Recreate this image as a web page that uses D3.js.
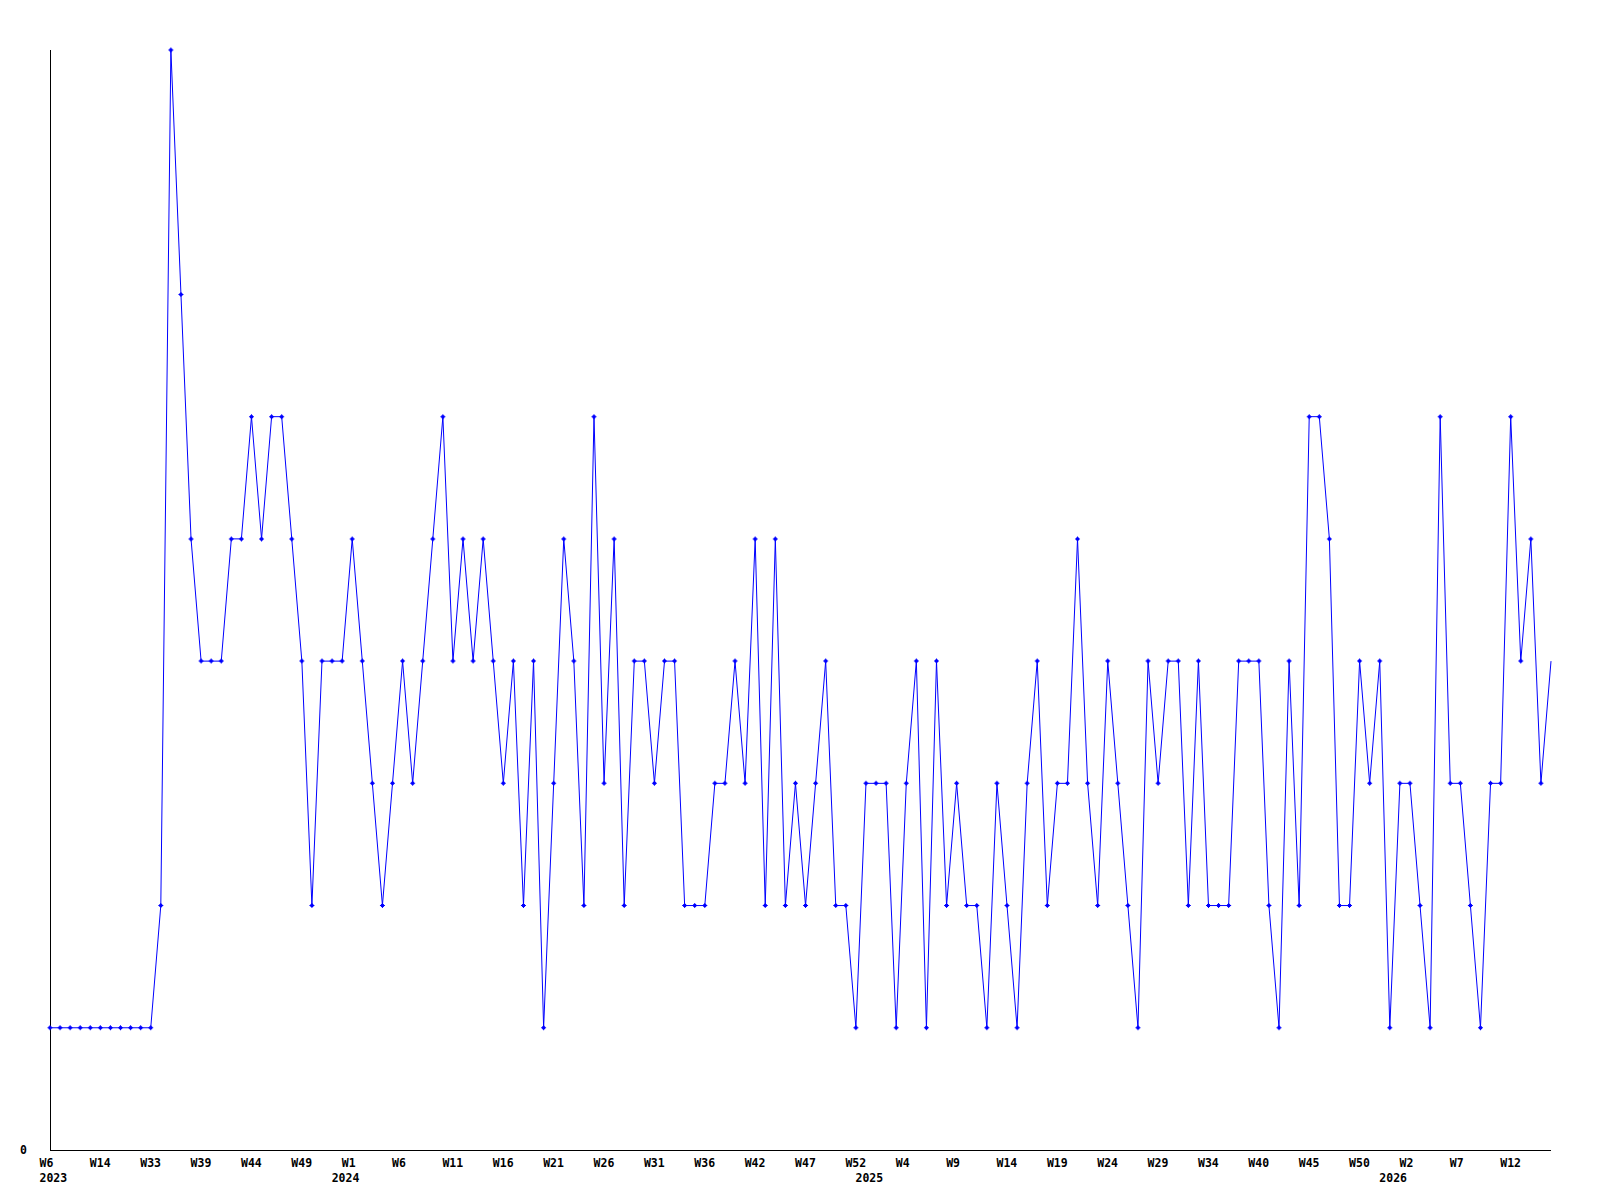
<!DOCTYPE html>
<html>

<head>
    <meta charset="utf-8">
    <style>
        body {
            margin: 0;
            background: white;
        }

        svg {
            display: block;
        }

        .lbl {
            font-family: 'DejaVu Sans Mono', 'Liberation Mono', monospace;
            font-weight: bold;
            font-size: 11.5px;
            fill: black;
        }
    </style>
</head>

<body>
    <svg width="1600" height="1200"></svg>
</body>

<script src="https://d3js.org/d3.v7.min.js"></script>

<script>
    // weekly counts, one per point (index 0 = W6 2023)
    let counts = [
        1, 1, 1, 1, 1, 1, 1, 1, 1, 1,
        1, 2, 9, 7, 5, 4, 4, 4, 5, 5,
        6, 5, 6, 6, 5, 4, 2, 4, 4, 4,
        5, 4, 3, 2, 3, 4, 3, 4, 5, 6,
        4, 5, 4, 5, 4, 3, 4, 2, 4, 1,
        3, 5, 4, 2, 6, 3, 5, 2, 4, 4,
        3, 4, 4, 2, 2, 2, 3, 3, 4, 3,
        5, 2, 5, 2, 3, 2, 3, 4, 2, 2,
        1, 3, 3, 3, 1, 3, 4, 1, 4, 2,
        3, 2, 2, 1, 3, 2, 1, 3, 4, 2,
        3, 3, 5, 3, 2, 4, 3, 2, 1, 4,
        3, 4, 4, 2, 4, 2, 2, 2, 4, 4,
        4, 2, 1, 4, 2, 6, 6, 5, 2, 2,
        4, 3, 4, 1, 3, 3, 2, 1, 6, 3,
        3, 2, 1, 3, 3, 6, 4, 5, 3, 4
    ]

    // tick labels every 5th point
    let weekLabels = [
        "W6", "W14", "W33", "W39", "W44", "W49", "W1", "W6", "W11", "W16",
        "W21", "W26", "W31", "W36", "W42", "W47", "W52", "W4", "W9", "W14",
        "W19", "W24", "W29", "W34", "W40", "W45", "W50", "W2", "W7", "W12"
    ]

    // year labels and the point they sit under
    let yearLabels = ["2023", "2024", "2025", "2026"]
    let yearIndex = [0, 29, 81, 133]

    let yMax = 9

    let svg = d3.select("svg")

    let mLeft = 50, mRight = 1551, mTop = 50, mBottom = 1150

    let x = d3.scaleLinear()
        .domain([0, counts.length - 1])
        .range([mLeft, mRight])

    let y = d3.scaleLinear()
        .domain([0, yMax])
        .range([mBottom, mTop])

    // axes (just plain lines, no ticks)
    svg.append("line")
        .attr("x1", mLeft + 0.5).attr("x2", mLeft + 0.5)
        .attr("y1", mTop).attr("y2", mBottom + 0.5)
        .style("stroke", "black")
        .style("shape-rendering", "crispEdges")

    svg.append("line")
        .attr("x1", mLeft).attr("x2", mRight)
        .attr("y1", mBottom + 0.5).attr("y2", mBottom + 0.5)
        .style("stroke", "black")
        .style("shape-rendering", "crispEdges")

    svg.append("text")
        .attr("class", "lbl")
        .attr("x", 20)
        .attr("y", y(0) + 4)
        .text("0")

    // week labels, left aligned a bit before the point
    svg.selectAll(".wk")
        .data(weekLabels)
        .join("text")
        .attr("class", "lbl wk")
        .attr("x", (d, i) => x(i * 5) - 10.5)
        .attr("y", mBottom + 16.5)
        .text(d => d)

    svg.selectAll(".yr")
        .data(yearLabels)
        .join("text")
        .attr("class", "lbl yr")
        .attr("x", (d, i) => x(yearIndex[i]) - 10.5)
        .attr("y", mBottom + 31.5)
        .text(d => d)

    let line = d3.line()
        .x((d, i) => x(i))
        .y(d => y(d))

    svg.append("path")
        .datum(counts)
        .attr("d", line)
        .style("fill", "none")
        .style("stroke", "#0000ff")
        .style("stroke-width", 1)

    // small plus markers (last point has none)
    let marker = "M-2.5,-0.5h5v1h-5z M-0.5,-2.5h1v5h-1z M-1.5,-1.5h3v3h-3z"

    svg.selectAll(".pt")
        .data(counts.slice(0, -1))
        .join("path")
        .attr("class", "pt")
        .attr("transform", (d, i) => "translate(" + x(i) + "," + y(d) + ")")
        .attr("d", marker)
        .style("fill", "#0000ff")
</script>

</html>
